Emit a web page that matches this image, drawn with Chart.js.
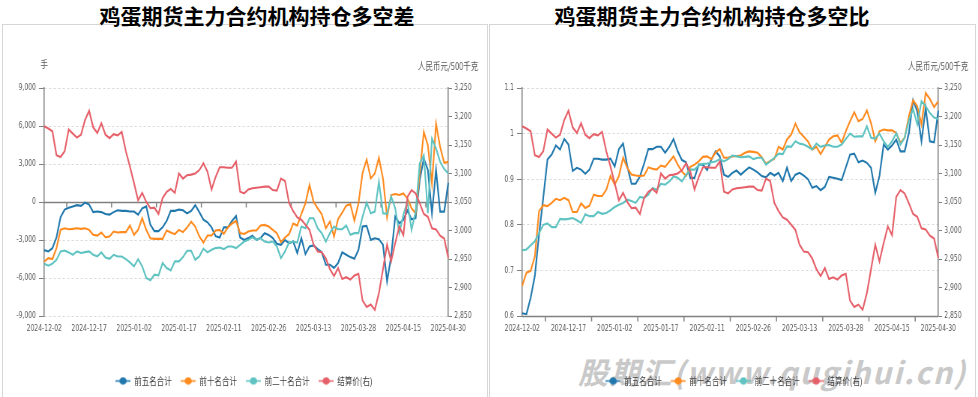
<!DOCTYPE html>
<html>
<head>
<meta charset="utf-8">
<script src="https://cdn.jsdelivr.net/npm/chart.js@4"></script>
<style>
  body { margin: 0; width: 978px; height: 397px; overflow: hidden; background: #fff; position: relative; }
  .panel { position: absolute; top: 24px; height: 380px; border: 1px solid #d6d6d6; box-sizing: border-box; }
  .title { position: absolute; top: 0; height: 25px; line-height: 25px; text-align: center;
           font: bold 21px 'Noto Sans CJK SC', sans-serif; color: #000; }
  .box { position: absolute; top: 25px; width: 488px; height: 372px; overflow: hidden; }
  .mark { position: absolute; left: 578px; top: 349px; font: italic bold 30px 'Noto Sans CJK SC', sans-serif;
          color: #c9c9c9; letter-spacing: 1.8px; white-space: nowrap; }
</style>
</head>
<body>
<div class="panel" style="left:2px;width:486px"></div>
<div class="panel" style="left:489px;width:487px"></div>
<div class="title" style="left:0;width:514px">鸡蛋期货主力合约机构持仓多空差</div>
<div class="title" style="left:490px;width:444px">鸡蛋期货主力合约机构持仓多空比</div>
<div class="mark">股期汇(www.qugihui.cn)</div>
<!-- canvases are drawn 651 wide and shown 488 wide: narrow text like the original -->
<div class="box" style="left:0"><canvas id="chart_diff" width="651" height="372" style="width:488px;height:372px"></canvas></div>
<div class="box" style="left:490px"><canvas id="chart_ratio" width="651" height="372" style="width:488px;height:372px"></canvas></div>
<script>
const dates = [
  '2024-12-02','2024-12-03','2024-12-04','2024-12-05','2024-12-06','2024-12-09','2024-12-10','2024-12-11','2024-12-12','2024-12-13',
  '2024-12-16','2024-12-17','2024-12-18','2024-12-19','2024-12-20','2024-12-23','2024-12-24','2024-12-25','2024-12-26','2024-12-27',
  '2024-12-30','2024-12-31','2025-01-02','2025-01-03','2025-01-06','2025-01-07','2025-01-08','2025-01-09','2025-01-10','2025-01-13',
  '2025-01-14','2025-01-15','2025-01-16','2025-01-17','2025-01-20','2025-01-21','2025-01-22','2025-01-23','2025-01-24','2025-01-27',
  '2025-02-05','2025-02-06','2025-02-07','2025-02-10','2025-02-11','2025-02-12','2025-02-13','2025-02-14','2025-02-17','2025-02-18',
  '2025-02-19','2025-02-20','2025-02-21','2025-02-24','2025-02-25','2025-02-26','2025-02-27','2025-02-28','2025-03-03','2025-03-04',
  '2025-03-05','2025-03-06','2025-03-07','2025-03-10','2025-03-11','2025-03-12','2025-03-13','2025-03-14','2025-03-17','2025-03-18',
  '2025-03-19','2025-03-20','2025-03-21','2025-03-24','2025-03-25','2025-03-26','2025-03-27','2025-03-28','2025-03-31','2025-04-01',
  '2025-04-02','2025-04-03','2025-04-07','2025-04-08','2025-04-09','2025-04-10','2025-04-11','2025-04-14','2025-04-15','2025-04-16',
  '2025-04-17','2025-04-18','2025-04-21','2025-04-22','2025-04-23','2025-04-24','2025-04-25','2025-04-28','2025-04-29','2025-04-30'
];

// 多空差 (手)
const diff_top5 = [
  -3800,-3900,-3650,-2800,-1200,-600,-450,-350,-250,-300,
  -50,-200,-800,-750,-800,-950,-1000,-800,-650,-700,
  -700,-750,-750,-1000,-500,-350,-1800,-2300,-2300,-2000,
  -1500,-700,-700,-600,-650,-900,-700,-250,-800,-1400,
  -1600,-2000,-2700,-2800,-2000,-2000,-1500,-1100,-2800,-3000,
  -2850,-2670,-2990,-2850,-2460,-2600,-2850,-3300,-3380,-3000,
  -3250,-3120,-4030,-2850,-4110,-3510,-3430,-3720,-3960,-4950,
  -4950,-5210,-4820,-3980,-4170,-4350,-4480,-3770,-1940,-1890,
  -2990,-2860,-2930,-3380,-6260,-4300,-1150,-1680,-1410,-680,
  -1360,-1280,1730,3430,2520,-890,2520,-760,-760,1520
];
const diff_top10 = [
  -4700,-4430,-4500,-3640,-2200,-2070,-2150,-2120,-2070,-2120,
  -2070,-2200,-2590,-2650,-2410,-2780,-2720,-2330,-2410,-2380,
  -2380,-1860,-2590,-2200,-1280,-2200,-2860,-2910,-2910,-2910,
  -2250,-2410,-2540,-2200,-2380,-2020,-1550,-1940,-2720,-3200,
  -2650,-2650,-2250,-2200,-2520,-2000,-1700,-1500,-2460,-2520,
  -2330,-2250,-2250,-1860,-1810,-1940,-2200,-2460,-3170,-2800,
  -2520,-1700,-1860,-940,-100,1340,30,-500,-970,-2070,
  -1550,-2720,-1340,-840,-290,-160,-1470,-100,2310,3350,
  1860,2250,3480,1860,-1200,550,630,550,680,290,
  -500,-890,2250,5530,4480,1470,6180,4350,3090,3170
];
const diff_top20 = [
  -4870,-5030,-4870,-4560,-3900,-3830,-3980,-4170,-3900,-4030,
  -3960,-3900,-4170,-4300,-3980,-4380,-4480,-4170,-4300,-4300,
  -4510,-4770,-5080,-4510,-5080,-6000,-6180,-5740,-5790,-4820,
  -5210,-5400,-4690,-4690,-4350,-3850,-3850,-4560,-4300,-3690,
  -3980,-3770,-3640,-3590,-3720,-3510,-3510,-3640,-3380,-3120,
  -2990,-2780,-2990,-2850,-3120,-3200,-3120,-3510,-4430,-3900,
  -3200,-3120,-3200,-1940,-2070,-1280,-1280,-2070,-2460,-3120,
  -2460,-1940,-2150,-2150,-1860,-2590,-2460,-2460,-1150,-50,
  -890,-760,1600,-890,-940,420,-500,-2460,-1020,30,
  -2200,-760,3040,3690,-890,5000,4220,3170,2600,2250
];

// 多空比
const ratio_top5 = [
  0.606,0.604,0.640,0.688,0.779,0.859,0.943,0.954,0.974,0.965,
  0.988,0.976,0.918,0.925,0.921,0.912,0.921,0.945,0.945,0.943,
  0.943,0.945,0.928,0.966,0.978,0.928,0.890,0.890,0.906,0.934,
  0.966,0.966,0.971,0.971,0.958,0.971,0.988,0.961,0.942,0.937,
  0.903,0.903,0.932,0.932,0.920,0.943,0.961,0.950,0.910,0.905,
  0.914,0.919,0.910,0.918,0.926,0.921,0.915,0.907,0.904,0.914,
  0.908,0.914,0.896,0.925,0.896,0.910,0.914,0.908,0.900,0.881,
  0.885,0.876,0.883,0.905,0.903,0.901,0.898,0.926,0.954,0.956,
  0.937,0.941,0.936,0.925,0.870,0.907,0.976,0.965,0.974,0.987,
  0.961,0.961,1.001,1.073,1.049,0.983,1.056,0.983,0.981,1.050
];
const ratio_top10 = [
  0.666,0.695,0.699,0.731,0.830,0.843,0.841,0.848,0.857,0.854,
  0.859,0.854,0.828,0.828,0.847,0.837,0.842,0.866,0.863,0.863,
  0.877,0.907,0.888,0.907,0.947,0.925,0.910,0.908,0.907,0.908,
  0.926,0.923,0.921,0.930,0.927,0.939,0.950,0.932,0.917,0.907,
  0.927,0.932,0.939,0.949,0.950,0.944,0.959,0.966,0.947,0.947,
  0.950,0.951,0.952,0.958,0.961,0.960,0.958,0.948,0.934,0.940,
  0.945,0.971,0.965,0.987,0.998,1.022,1.003,0.993,0.983,0.965,
  0.971,0.955,0.971,0.987,0.994,0.996,0.980,1.005,1.027,1.047,
  1.027,1.032,1.051,1.023,0.983,1.005,1.009,1.007,1.007,1.001,
  0.980,0.991,1.038,1.073,1.060,1.020,1.089,1.076,1.058,1.071
];
const ratio_top20 = [
  0.744,0.746,0.755,0.764,0.782,0.800,0.803,0.795,0.795,0.813,
  0.812,0.813,0.815,0.810,0.804,0.823,0.819,0.819,0.828,0.824,
  0.826,0.832,0.839,0.844,0.848,0.855,0.852,0.848,0.861,0.859,
  0.866,0.881,0.877,0.890,0.888,0.895,0.906,0.903,0.895,0.910,
  0.921,0.921,0.930,0.934,0.934,0.937,0.939,0.944,0.939,0.944,
  0.952,0.950,0.948,0.949,0.950,0.944,0.947,0.947,0.932,0.939,
  0.947,0.956,0.955,0.972,0.971,0.983,0.978,0.976,0.971,0.965,
  0.978,0.971,0.974,0.975,0.971,0.971,0.976,0.988,1.000,0.993,
  0.994,0.994,1.016,0.991,0.989,1.000,0.983,0.971,0.983,1.001,
  0.976,0.991,1.029,1.054,1.020,1.071,1.060,1.045,1.035,1.032
];

// 结算价 (元/500千克)
const settle_price = [
  3183,3179,3174,3132,3129,3139,3177,3170,3163,3168,
  3194,3210,3181,3171,3188,3168,3162,3169,3167,3173,
  3139,3112,3083,3053,3066,3050,3039,3040,3029,3057,
  3068,3073,3066,3100,3091,3097,3098,3100,3106,3118,
  3103,3072,3094,3111,3111,3110,3110,3121,3068,3065,
  3072,3074,3075,3076,3077,3077,3071,3070,3091,3087,
  3048,3034,3023,3019,3010,3001,2975,2963,2962,2951,
  2932,2920,2934,2915,2918,2914,2921,2924,2877,2866,
  2870,2861,2890,2932,2975,2946,2978,3007,2992,3059,
  3071,3065,3048,3029,3024,3004,3002,2991,2986,2952
];

const series_names = ['前五名合计', '前十名合计', '前二十名合计', '结算价(右)'];
const series_colors = ['#2178ad', '#ff8b1f', '#5ec3c1', '#e6606a'];

const SX = 651 / 488;   // horizontal squeeze of the canvas

Chart.defaults.font.family = "'DejaVu Sans Condensed','Liberation Sans','Noto Sans CJK SC',sans-serif";
Chart.defaults.font.size = 9;
Chart.defaults.color = '#595959';

// line+dot marker for the legend (ellipse so it comes out round after the squeeze)
function legendMark(color) {
  let c = document.createElement('canvas');
  c.width = 20; c.height = 9;
  let g = c.getContext('2d');
  g.strokeStyle = color; g.lineWidth = 1.5;
  g.beginPath(); g.moveTo(0, 4.5); g.lineTo(20, 4.5); g.stroke();
  g.fillStyle = color;
  g.beginPath(); g.ellipse(10, 4.5, 3.7 * SX, 3.7, 0, 0, Math.PI * 2); g.fill();
  return c;
}
const marks = series_colors.map(legendMark);

// dark category axis line with ticks between the labels
const axisLine = {
  id: 'axisLine',
  beforeDatasetsDraw(chart, args, opts) {
    let ctx = chart.ctx, area = chart.chartArea, x = chart.scales.x;
    let y = Math.round(chart.scales.y.getPixelForValue(opts.at)) + 0.5;
    ctx.save();
    ctx.strokeStyle = '#808080';
    ctx.lineWidth = 1.5;
    ctx.beginPath();
    ctx.moveTo(area.left, y); ctx.lineTo(area.right, y);
    for (let i = 5.5; i < dates.length; i += 11) {
      let px = x.getPixelForValue(i);
      ctx.moveTo(px, y); ctx.lineTo(px, y + 5);
    }
    ctx.stroke();
    ctx.restore();
  }
};

const units = {
  id: 'units',
  afterDraw(chart, args, opts) {
    let ctx = chart.ctx, area = chart.chartArea;
    ctx.save();
    ctx.font = "10px 'Noto Sans CJK SC'";
    ctx.fillStyle = '#595959';
    ctx.textBaseline = 'middle';
    if (opts.left) {
      ctx.textAlign = 'center';
      ctx.fillText(opts.left, area.left, area.top - 24);
    }
    ctx.textAlign = 'right';
    ctx.fillText(opts.right, area.right + 30 * SX, area.top - 22);
    ctx.restore();
  }
};

function makeChart(id, values, y, leftWidth, leftUnit, axisAt) {
  let datasets = values.map((v, i) => ({
    label: series_names[i],
    data: v,
    yAxisID: i === 3 ? 'y1' : 'y',
    borderColor: series_colors[i],
    backgroundColor: series_colors[i],
    borderWidth: 2.1,
    pointRadius: 0,
    tension: 0,
    order: 3 - i
  }));
  return new Chart(document.getElementById(id).getContext('2d'), {
    type: 'line',
    data: { labels: dates, datasets: datasets },
    plugins: [axisLine, units],
    options: {
      responsive: false,
      animation: false,
      layout: { padding: { top: 63, bottom: 1 } },
      plugins: {
        axisLine: { at: axisAt },
        units: { left: leftUnit, right: '人民币元/500千克' },
        tooltip: { enabled: false },
        legend: {
          position: 'bottom',
          labels: {
            usePointStyle: true,
            pointStyleWidth: 20,
            padding: 12,
            color: '#404040',
            font: { family: "'Noto Sans CJK SC',sans-serif", size: 10 },
            sort: (a, b) => a.datasetIndex - b.datasetIndex,
            generateLabels(chart) {
              let items = Chart.defaults.plugins.legend.labels.generateLabels(chart);
              items.forEach(it => { it.pointStyle = marks[it.datasetIndex]; });
              return items;
            }
          }
        }
      },
      scales: {
        x: {
          grid: { display: false, drawTicks: false },
          border: { display: false },
          ticks: {
            autoSkip: false, maxRotation: 0, minRotation: 0, padding: 7,
            callback: (v, i) => i % 11 === 0 ? dates[i] : null
          },
          afterFit: s => { s.height = 48; }
        },
        y: {
          position: 'left',
          min: y.min, max: y.max,
          ticks: { stepSize: y.step, padding: 4, callback: y.format },
          grid: {
            color: c => c.tick && c.tick.value === axisAt ? 'rgba(0,0,0,0)' : '#d9d9d9',
            tickColor: '#808080', tickLength: 7
          },
          border: { color: '#808080', width: 1.5, dash: [3, 3] },
          afterFit: s => { s.width = leftWidth; }
        },
        y1: {
          position: 'right',
          min: 2850, max: 3250,
          ticks: { stepSize: 50, padding: 3, callback: v => v.toLocaleString('en-US') },
          grid: { drawOnChartArea: false, tickColor: '#808080', tickLength: 5 },
          border: { color: '#808080', width: 1.5 },
          afterFit: s => { s.width = 53; }
        }
      }
    }
  });
}

makeChart('chart_diff', [diff_top5, diff_top10, diff_top20, settle_price],
  { min: -9000, max: 9000, step: 3000, format: v => v.toLocaleString('en-US') }, 59, '手', 0);

makeChart('chart_ratio', [ratio_top5, ratio_top10, ratio_top20, settle_price],
  { min: 0.6, max: 1.1, step: 0.1, format: v => String(+v.toFixed(1)) }, 43, '', 0.6);
</script>
</body>
</html>
